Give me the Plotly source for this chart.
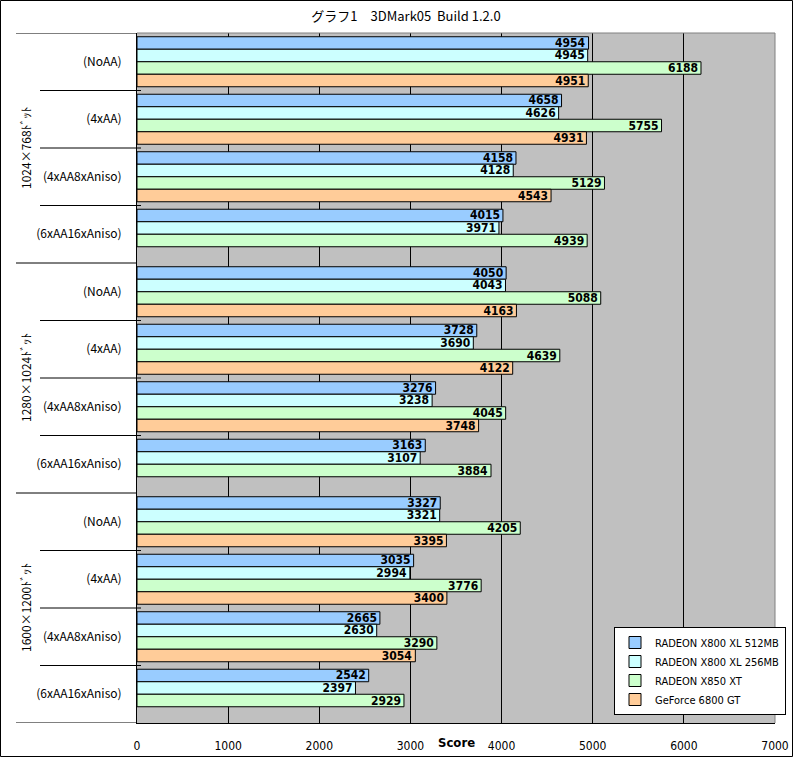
import plotly.graph_objects as go

groups = ["1024×768ﾄﾞｯﾄ", "1280×1024ﾄﾞｯﾄ", "1600×1200ﾄﾞｯﾄ"]
settings = ["(NoAA)", "(4xAA)", "(4xAA8xAniso)", "(6xAA16xAniso)"]
series_names = ["RADEON X800 XL 512MB", "RADEON X800 XL 256MB", "RADEON X850 XT", "GeForce 6800 GT"]
colors = ["#99CCFF", "#CCFFFF", "#CCFFCC", "#FFCC99"]

x800xl_512 = [4954, 4658, 4158, 4015, 4050, 3728, 3276, 3163, 3327, 3035, 2665, 2542]
x800xl_256 = [4945, 4626, 4128, 3971, 4043, 3690, 3238, 3107, 3321, 2994, 2630, 2397]
x850xt = [6188, 5755, 5129, 4939, 5088, 4639, 4045, 3884, 4205, 3776, 3290, 2929]
gf6800gt = [4951, 4931, 4543, None, 4163, 4122, 3748, None, 3395, 3400, 3054, None]

x_ticks = [0, 1000, 2000, 3000, 4000, 5000, 6000, 7000]

W, H = 793, 757
L, R, T, B = 137, 775, 33, 723
pw, ph = R - L, B - T

NARROW = "Liberation Sans Narrow, DejaVu Sans Condensed, sans-serif"
JP = "Noto Sans CJK JP, DejaVu Sans"


def px(xp):
    return (xp - L) / pw


def py(yp):
    return (B - yp) / ph


n_cat = len(groups) * len(settings)
ypos = list(range(n_cat))
ticktext = settings * len(groups)

fig = go.Figure()
for name, col, vals in zip(series_names, colors, [x800xl_512, x800xl_256, x850xt, gf6800gt]):
    fig.add_trace(go.Bar(
        y=ypos, x=vals, orientation="h", name=name,
        marker=dict(color=col, line=dict(color="black", width=1)),
        text=[("" if v is None else str(v)) for v in vals],
        textposition="inside", insidetextanchor="end",
        constraintext="none",
        textfont=dict(family=NARROW, size=12, color="black", weight="bold"),
        hoverinfo="x+name",
    ))

shapes = []
for k in range(n_cat + 1):
    yv = k - 0.5
    if k % len(settings) == 0:
        x0, x1 = px(16), px(137)
    else:
        x0, x1 = px(40), px(141)
    shapes.append(dict(type="line", xref="paper", yref="y", x0=x0, x1=x1, y0=yv, y1=yv,
                       line=dict(color="black", width=1), layer="above"))
shapes.append(dict(type="line", xref="paper", yref="paper", x0=0, x1=1, y0=1, y1=1,
                   line=dict(color="#808080", width=1), layer="above"))
shapes.append(dict(type="line", xref="paper", yref="paper", x0=1, x1=1, y0=0, y1=1,
                   line=dict(color="#808080", width=1), layer="above"))
shapes.append(dict(type="rect", xref="paper", yref="paper",
                   x0=px(0.5), x1=px(W - 0.5), y0=py(H - 0.5), y1=py(0.5),
                   line=dict(color="black", width=1), fillcolor="rgba(0,0,0,0)", layer="above"))

annotations = []
for gi, g in enumerate(groups):
    center = gi * len(settings) + (len(settings) - 1) / 2
    annotations.append(dict(text=g, xref="paper", yref="y", x=px(25), y=center,
                            textangle=-90, showarrow=False,
                            font=dict(family=JP, size=12, color="black"),
                            xanchor="center", yanchor="middle"))
annotations.append(dict(text="<b>Score</b>", xref="paper", yref="paper", x=px(457), y=py(743),
                        showarrow=False, xanchor="center", yanchor="middle",
                        font=dict(family=NARROW, size=13, color="black")))

fig.update_layout(
    width=W, height=H,
    margin=dict(l=L, r=W - R, t=T, b=H - B, pad=0, autoexpand=False),
    paper_bgcolor="white", plot_bgcolor="#C0C0C0",
    barmode="group", bargap=0.13, bargroupgap=0,
    title=dict(text="グラフ1　3DMark05  Build 1.2.0", x=406 / W, xanchor="center",
               y=1 - 16 / H, yanchor="middle",
               font=dict(family=JP, size=13, color="black")),
    font=dict(family=JP, size=12, color="black"),
    xaxis=dict(range=[0, 7000], tickvals=x_ticks, ticktext=[str(v) for v in x_ticks],
               showgrid=True, gridcolor="black", gridwidth=1, zeroline=False,
               showline=True, linecolor="black", linewidth=1, ticks="",
               ticklabelstandoff=12,
               tickfont=dict(family=NARROW, size=12, color="black")),
    yaxis=dict(range=[n_cat - 0.5, -0.5], tickvals=ypos, ticktext=ticktext,
               showgrid=False, zeroline=False, showline=True, linecolor="black", linewidth=1,
               ticks="", ticklabelstandoff=12,
               tickfont=dict(family=JP, size=12, color="black")),
    legend=dict(xref="container", yref="container", x=614 / W, y=1 - 627 / H,
                xanchor="left", yanchor="top", bgcolor="white", bordercolor="black",
                borderwidth=1, traceorder="normal", tracegroupgap=0, itemwidth=30,
                font=dict(family=NARROW, size=11, color="black")),
    shapes=shapes, annotations=annotations,
    showlegend=True,
)

fig.write_html("out.html")
